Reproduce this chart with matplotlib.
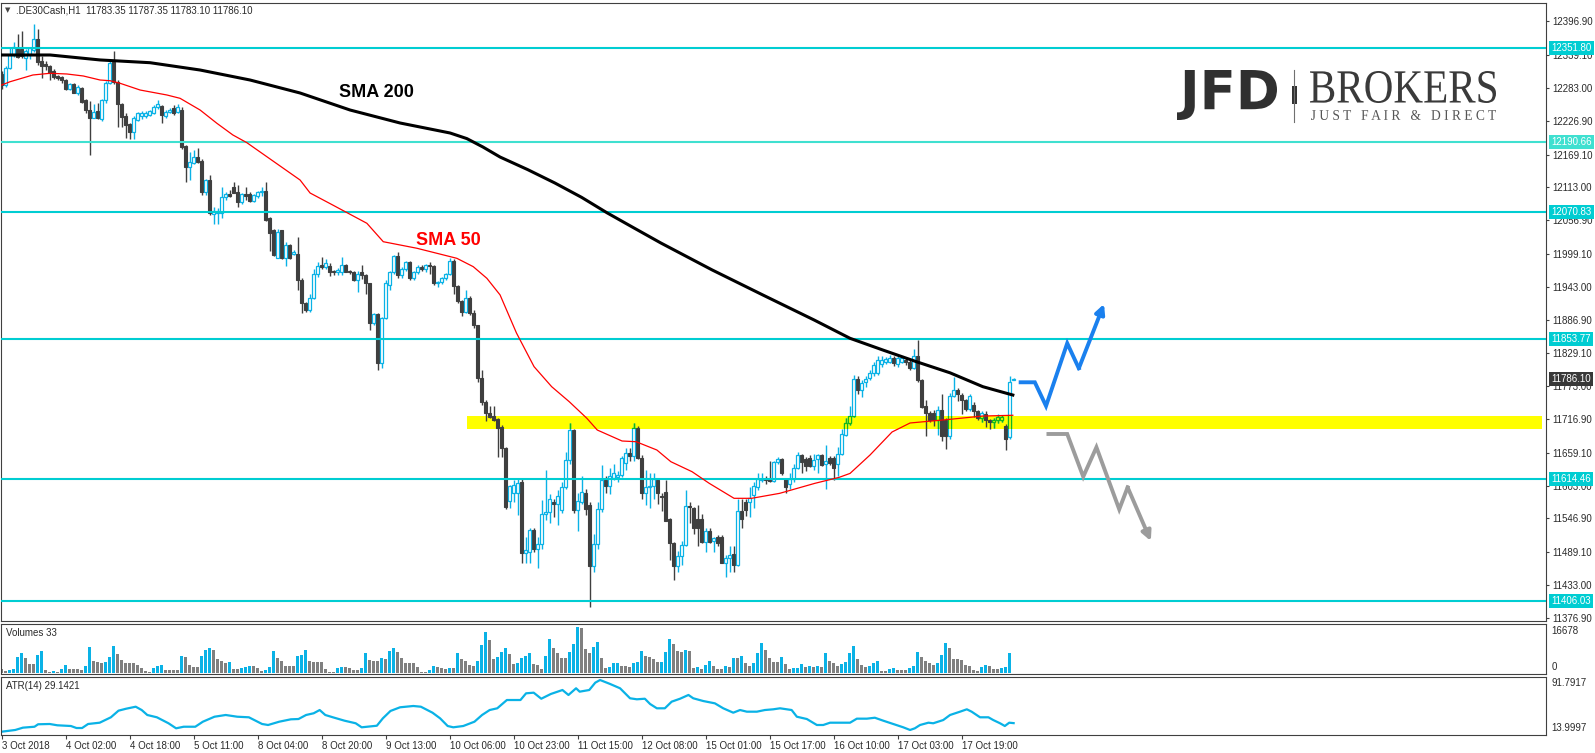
import matplotlib
matplotlib.use("Agg")
import matplotlib.pyplot as plt
import matplotlib.transforms as mtransforms
from matplotlib.patches import Rectangle, PathPatch
from matplotlib.textpath import TextPath
from matplotlib.font_manager import FontProperties
import numpy as np

plt.rcParams['font.family'] = ['Liberation Sans', 'DejaVu Sans']

# ---------------- data ----------------
opens = [
    12307, 12288, 12318, 12339, 12350, 12349, 12335, 12342, 12348, 12366,
    12330, 12324, 12320, 12312, 12303, 12302, 12296, 12282, 12290, 12274,
    12283, 12262, 12245, 12232, 12244, 12230, 12262, 12292, 12327, 12293,
    12255, 12236, 12221, 12207, 12228, 12235, 12236, 12237, 12241, 12250,
    12252, 12235, 12242, 12248, 12242, 12245, 12184, 12148, 12155, 12165,
    12158, 12105, 12126, 12068, 12070, 12069, 12096, 12101, 12113, 12105,
    12088, 12101, 12102, 12090, 12098, 12105, 12107, 12060, 12040, 11993,
    12040, 11993, 12014, 11999, 11999, 11955, 11915, 11903, 11924, 11965,
    11980, 11977, 11979, 11970, 11968, 11968, 11980, 11970, 11968, 11955,
    11968, 11963, 11949, 11882, 11897, 11812, 11890, 11946, 11968, 11995,
    11963, 11973, 11985, 11958, 11968, 11977, 11973, 11980, 11978, 11949,
    11951, 11958, 11965, 11987, 11945, 11918, 11900, 11924, 11898, 11877,
    11787, 11746, 11728, 11722, 11717, 11704, 11667, 11577, 11590, 11590,
    11610, 11488, 11490, 11527, 11495, 11503, 11554, 11558, 11575, 11572,
    11561, 11601, 11647, 11698, 11561, 11575, 11590, 11570, 11465, 11503,
    11563, 11613, 11602, 11616, 11618, 11622, 11642, 11659, 11654, 11702,
    11650, 11591, 11600, 11602, 11613, 11585, 11592, 11546, 11505, 11466,
    11483, 11502, 11568, 11565, 11546, 11546, 11507, 11525, 11509, 11516,
    11515, 11471, 11480, 11487, 11468, 11560, 11575, 11575, 11587, 11601,
    11612, 11614, 11614, 11611, 11643, 11648, 11614, 11606, 11614, 11634,
    11655, 11648, 11650, 11636, 11648, 11655, 11640, 11650, 11650, 11640,
    11657, 11690, 11710, 11723, 11785, 11767, 11780, 11787, 11796, 11796,
    11811, 11815, 11815, 11821, 11811, 11815, 11818, 11815, 11805, 11825,
    11784, 11739, 11728, 11728, 11715, 11732, 11715, 11688, 11756, 11767,
    11758, 11750, 11734, 11741, 11730, 11718, 11725, 11715, 11712, 11716,
    11716, 11705, 11686, 11783.35,
]
highs = [
    12312, 12320, 12351, 12361, 12376, 12381, 12350, 12354, 12392, 12384,
    12338, 12330, 12322, 12316, 12305, 12304, 12298, 12292, 12292, 12288,
    12285, 12265, 12260, 12256, 12258, 12265, 12295, 12330, 12347, 12296,
    12257, 12240, 12224, 12235, 12242, 12243, 12243, 12246, 12254, 12263,
    12254, 12245, 12248, 12254, 12256, 12250, 12186, 12173, 12177, 12180,
    12162, 12128, 12135, 12080, 12078, 12113, 12106, 12108, 12122, 12118,
    12103, 12113, 12105, 12102, 12107, 12113, 12122, 12062, 12042, 12042,
    12040, 12019, 12016, 12006, 12029, 11958, 11917, 11930, 11973, 11986,
    11994, 11990, 11984, 11972, 11975, 11994, 11982, 11972, 11970, 11970,
    11980, 11965, 11950, 11898, 11898, 11892, 11955, 11970, 11998, 12002,
    11977, 11987, 11987, 11970, 11980, 11980, 11982, 11985, 11980, 11953,
    11960, 11967, 11992, 11990, 11947, 11920, 11937, 11927, 11903, 11878,
    11800, 11750, 11740, 11740, 11719, 11706, 11670, 11605, 11612, 11616,
    11615, 11515, 11530, 11530, 11515, 11578, 11630, 11588, 11580, 11596,
    11610, 11660, 11710, 11700, 11590, 11620, 11597, 11575, 11520, 11575,
    11638, 11620, 11633, 11640, 11628, 11653, 11668, 11668, 11710, 11705,
    11655, 11630, 11625, 11625, 11614, 11590, 11613, 11548, 11506, 11492,
    11508, 11595, 11575, 11567, 11570, 11554, 11530, 11530, 11516, 11518,
    11518, 11485, 11500, 11500, 11580, 11580, 11580, 11600, 11610, 11625,
    11625, 11620, 11645, 11645, 11652, 11650, 11616, 11625, 11640, 11660,
    11658, 11652, 11655, 11658, 11658, 11658, 11672, 11653, 11653, 11670,
    11700, 11719, 11740, 11792, 11790, 11783, 11790, 11800, 11815, 11825,
    11824, 11823, 11826, 11824, 11826, 11824, 11821, 11818, 11836, 11852,
    11786, 11749, 11730, 11733, 11740, 11760, 11718, 11762, 11788, 11770,
    11762, 11752, 11760, 11746, 11733, 11730, 11730, 11717, 11718, 11725,
    11724, 11708, 11790, 11787.35,
]
lows = [
    12282, 12285, 12315, 12336, 12334, 12334, 12314, 12332, 12345, 12322,
    12300, 12313, 12297, 12299, 12297, 12292, 12280, 12280, 12274, 12271,
    12258, 12240, 12168, 12232, 12230, 12226, 12258, 12290, 12290, 12216,
    12216, 12198, 12195, 12195, 12226, 12230, 12232, 12235, 12238, 12247,
    12223, 12232, 12240, 12237, 12240, 12178, 12122, 12125, 12153, 12155,
    12100, 12100, 12066, 12051, 12051, 12060, 12092, 12096, 12103, 12080,
    12085, 12092, 12088, 12088, 12095, 12099, 12055, 12005, 11995, 11993,
    11990, 11979, 11990, 11997, 11938, 11898, 11900, 11900, 11922, 11960,
    11974, 11973, 11962, 11963, 11963, 11964, 11968, 11965, 11953, 11935,
    11957, 11931, 11870, 11878, 11800, 11805, 11888, 11938, 11965, 11958,
    11958, 11970, 11955, 11954, 11965, 11970, 11968, 11965, 11947, 11943,
    11948, 11955, 11963, 11930, 11915, 11893, 11898, 11895, 11873, 11781,
    11741, 11713, 11718, 11713, 11652, 11652, 11563, 11565, 11575, 11553,
    11470, 11470, 11471, 11490, 11463, 11495, 11545, 11540, 11550, 11535,
    11556, 11598, 11640, 11556, 11526, 11572, 11553, 11396, 11455, 11495,
    11558, 11590, 11588, 11612, 11610, 11618, 11630, 11646, 11645, 11648,
    11580, 11570, 11565, 11580, 11572, 11560, 11543, 11476, 11442, 11456,
    11468, 11500, 11540, 11520, 11500, 11505, 11490, 11505, 11490, 11500,
    11471, 11446, 11455, 11455, 11465, 11530, 11552, 11550, 11565, 11596,
    11610, 11606, 11610, 11610, 11640, 11622, 11590, 11598, 11610, 11632,
    11625, 11628, 11635, 11630, 11624, 11636, 11598, 11638, 11612, 11620,
    11655, 11688, 11706, 11720, 11760, 11755, 11772, 11784, 11790, 11792,
    11806, 11811, 11812, 11808, 11806, 11812, 11810, 11800, 11802, 11780,
    11735, 11688, 11712, 11705, 11690, 11680, 11665, 11683, 11754, 11748,
    11725, 11730, 11730, 11720, 11715, 11712, 11704, 11700, 11702, 11710,
    11712, 11664, 11683, 11783.10,
]
closes = [
    12288, 12318, 12339, 12354, 12336, 12338, 12346, 12351, 12366, 12327,
    12320, 12320, 12308, 12302, 12300, 12296, 12282, 12290, 12275, 12285,
    12259, 12245, 12231, 12242, 12232, 12262, 12292, 12325, 12293, 12255,
    12233, 12219, 12207, 12232, 12240, 12240, 12240, 12244, 12251, 12256,
    12237, 12242, 12246, 12240, 12250, 12182, 12148, 12156, 12165, 12157,
    12105, 12126, 12069, 12072, 12073, 12096, 12101, 12098, 12104, 12088,
    12101, 12098, 12090, 12100, 12105, 12107, 12057, 12035, 11997, 12036,
    11993, 12014, 11993, 12002, 11955, 11915, 11903, 11924, 11965, 11978,
    11977, 11984, 11969, 11968, 11971, 11980, 11969, 11968, 11955, 11965,
    11963, 11949, 11882, 11896, 11812, 11890, 11949, 11968, 11995, 11963,
    11973, 11985, 11958, 11968, 11977, 11973, 11980, 11978, 11949, 11951,
    11958, 11965, 11987, 11945, 11918, 11900, 11924, 11898, 11877, 11787,
    11746, 11728, 11720, 11715, 11701, 11667, 11567, 11602, 11605, 11608,
    11488, 11493, 11527, 11495, 11503, 11554, 11558, 11580, 11572, 11585,
    11601, 11647, 11698, 11561, 11576, 11592, 11563, 11465, 11503, 11563,
    11613, 11602, 11619, 11624, 11622, 11650, 11659, 11654, 11702, 11650,
    11590, 11601, 11603, 11614, 11590, 11583, 11543, 11505, 11466, 11483,
    11502, 11568, 11566, 11530, 11530, 11507, 11526, 11507, 11514, 11505,
    11471, 11480, 11484, 11468, 11559, 11546, 11561, 11582, 11603, 11614,
    11614, 11612, 11611, 11643, 11649, 11625, 11601, 11614, 11634, 11655,
    11643, 11636, 11636, 11647, 11655, 11639, 11645, 11641, 11634, 11657,
    11692, 11710, 11723, 11785, 11767, 11778, 11785, 11796, 11809, 11818,
    11818, 11819, 11821, 11812, 11821, 11821, 11815, 11805, 11825, 11784,
    11738, 11728, 11715, 11715, 11732, 11688, 11688, 11756, 11767, 11760,
    11750, 11734, 11756, 11730, 11718, 11727, 11715, 11712, 11716, 11720,
    11720, 11682, 11781, 11786.10,
]
volumes = [
    1388, 810, 1041, 1388, 5438, 6826, 5091, 3124, 3124, 6248,
    7636, 1041, 463, 694, 463, 1388, 2777, 1388, 1388, 1388,
    1041, 2430, 8909, 4165, 3934, 3587, 3934, 5438, 9372, 6595,
    4512, 3587, 3587, 3587, 2777, 1620, 810, 347, 1620, 2545,
    2777, 1041, 1041, 1041, 1041, 5901, 5438, 2777, 2198, 2198,
    5901, 7983, 8562, 7983, 4744, 4281, 3587, 3934, 1388, 1273,
    1620, 1967, 2545, 2545, 1620, 810, 1041, 1967, 7636, 5091,
    4165, 2545, 2545, 2545, 5901, 6248, 7983, 4281, 3702, 3702,
    3702, 1388, 463, 463, 1620, 1967, 1967, 1620, 1041, 1041,
    1620, 6826, 4512, 4281, 4281, 5091, 4744, 7636, 8562, 7173,
    5091, 3587, 3587, 3587, 2198, 463, 463, 1041, 2545, 2198,
    1620, 1388, 1620, 1620, 7058, 4744, 4165, 2777, 2545, 4165,
    9719, 14347, 11454, 4859, 5669, 7173, 8562, 6595, 3008, 3587,
    5091, 5901, 6826, 3008, 2777, 1388, 5901, 11801, 8562, 6826,
    5091, 5091, 7405, 10066, 16082, 15620, 8330, 6826, 9140, 10760,
    5091, 1620, 1967, 3355, 3470, 2430, 2430, 1967, 3587, 3934,
    7636, 5901, 5669, 4744, 3702, 3934, 7173, 11801, 10066, 7636,
    7173, 7983, 7636, 1851, 2198, 1388, 2777, 4165, 2430, 1388,
    1388, 2430, 2198, 5091, 5091, 5901, 3587, 2545, 3587, 6826,
    10529, 7983, 5091, 3934, 3934, 5669, 3124, 1273, 1620, 1851,
    3124, 2198, 2545, 2198, 2430, 2198, 7058, 4165, 3355, 2545,
    3124, 3934, 6826, 9487, 4744, 2777, 2198, 2430, 3355, 4281,
    810, 810, 1388, 1851, 1041, 1041, 1041, 1620, 2430, 7405,
    5669, 4165, 3355, 2777, 3587, 6248, 10529, 8793, 4975, 4744,
    4512, 2777, 2430, 1041, 810, 2198, 2777, 2545, 1273, 1273,
    1620, 2198, 7058, 33,
]

sma200_bar = [0, 12.1, 24.6, 37.1, 49.6, 62.1, 74.6, 87.1, 99.6, 112.1, 116.3, 120.3, 124.6,
              131.5, 138.3, 145.0, 151.3, 158.0, 164.8, 171.2, 177.6, 190.3, 203.1, 212.1,
              220.3, 228.7, 237.1, 245.3, 252.8]
sma200_val = [12339.5, 12339.5, 12331, 12326.3, 12313.8, 12296.7, 12274.5, 12245.4, 12223.2,
              12206.1, 12196.5, 12182.2, 12165.0, 12143.5, 12120.6, 12096.0, 12069.8, 12044.0,
              12018.0, 11995.0, 11972.0, 11929.1, 11886.4, 11855, 11835, 11815, 11796,
              11772.3, 11758]

sma50_bar = [0, 2.1, 7.8, 12.1, 16.3, 20.4, 24.6, 27.1, 29.6, 34.6,
             41.3, 44.6, 49.6, 53.8, 57.8, 61.3, 74.6, 77.1, 82.8, 91.3,
             95.4, 103.8, 113.8, 117.9, 121.3, 124.6, 128.7, 133.1, 137.5, 141.9,
             146.3, 148.9, 155.1, 158.6, 163.8, 167.3, 172.6, 176.9, 183.1, 187.5,
             194.5, 203.3, 209.4, 212.1, 217.1, 222.6, 227.1, 237.1, 245.3, 252.8]
sma50_val = [12288.2, 12293.8, 12305.3, 12308.2, 12307, 12303.6, 12296.7, 12295.5, 12291.1, 12279.6,
             12271.1, 12265.4, 12245.4, 12222.7, 12202.7, 12189.5, 12125.7, 12103.5, 12082.8, 12051.7,
             12020.2, 12009, 11991.8, 11977.5, 11957.6, 11929.2, 11864.1, 11806.5, 11772.3, 11746.6,
             11718.2, 11698.2, 11679.4, 11678.2, 11664, 11644, 11626.9, 11607, 11581.4, 11581.4,
             11589.9, 11607, 11617.3, 11624, 11655.5, 11694.8, 11710.2, 11716.5, 11722.1, 11723.4]

atr_bar = [0, 3.4, 5.3, 8.2, 9.1, 12.0, 13.9, 17.3, 18.7, 20.1,
           21.6, 24.5, 27.3, 29.2, 31.1, 33.5, 35.0, 36.4, 38.8, 41.7,
           43.6, 45.5, 48.4, 50.3, 53.2, 56.0, 58.9, 61.8, 65.1, 66.6,
           69.4, 72.3, 74.2, 76.1, 78.0, 79.5, 80.9, 82.8, 85.7, 88.5,
           90.0, 91.4, 93.8, 95.3, 97.2, 99.6, 102.9, 104.8, 107.7, 109.6,
           111.5, 112.9, 115.4, 118.2, 120.1, 122.0, 123.9, 126.3, 129.7, 131.1,
           133.0, 134.9, 137.3, 140.2, 141.7, 143.6, 144.5, 146.9, 148.4, 149.6,
           152.1, 154.6, 157.1, 158.8, 160.8, 162.1, 163.8, 165.8, 167.5, 169.6,
           171.7, 172.9, 175.4, 178.3, 180.4, 182.9, 184.6, 186.3, 188.8, 190.8,
           192.9, 194.6, 197.5, 198.8, 201.3, 203.8, 205.4, 207.1, 212.1, 213.8,
           216.3, 218.3, 220.4, 222.9, 225.4, 227.1, 228.3, 229.6, 231.7, 232.9,
           235.4, 237.1, 239.6, 241.3, 242.5, 244.6, 246.7, 247.9, 249.6, 250.8,
           251.9, 253]
atr_val = [17.2, 19.6, 22.8, 24.1, 27.5, 27.9, 26.1, 25.1, 22.3, 22.3,
           27.9, 29.7, 37.2, 46.4, 49.1, 51.9, 47.3, 40.4, 37.2, 28.9,
           21.9, 24.1, 24.1, 31.1, 38.0, 40.4, 38.0, 37.2, 27.9, 26.5,
           31.1, 34.4, 34.8, 40.4, 42.8, 47.3, 40.4, 37.2, 32.5, 28.9,
           23.3, 24.1, 25.5, 35.8, 46.0, 51.1, 52.9, 51.9, 43.6, 35.8,
           25.1, 23.3, 25.1, 31.1, 40.4, 47.3, 49.7, 61.2, 61.2, 70.5,
           71.4, 63.0, 69.6, 75.1, 68.2, 77.5, 72.8, 75.1, 85.3, 89.0,
           83.5, 77.5, 63.6, 62.2, 63.0, 55.7, 49.7, 49.7, 58.9, 63.0,
           68.2, 63.6, 59.8, 56.6, 49.7, 43.6, 47.3, 45.0, 45.0, 47.3,
           48.3, 49.7, 47.3, 38.0, 34.8, 26.5, 26.5, 29.7, 29.7, 35.3,
           35.3, 36.6, 32.5, 27.9, 23.3, 19.6, 21.9, 26.5, 29.7, 28.9,
           33.4, 40.4, 45.0, 48.3, 45.0, 37.2, 37.2, 33.4, 28.9, 25.1,
           29.7, 29.1]

levels = [12351.80, 12190.66, 12070.83, 11853.77, 11614.46, 11406.03]
price_ticks = [12396.90, 12339.10, 12283.00, 12226.90, 12169.10, 12113.00, 12056.90, 11999.10,
               11943.00, 11886.90, 11829.10, 11773.00, 11716.90, 11659.10, 11603.00, 11546.90,
               11489.10, 11433.00, 11376.90]
time_labels = ['3 Oct 2018', '4 Oct 02:00', '4 Oct 18:00', '5 Oct 11:00', '8 Oct 04:00',
               '8 Oct 20:00', '9 Oct 13:00', '10 Oct 06:00', '10 Oct 23:00', '11 Oct 15:00',
               '12 Oct 08:00', '15 Oct 01:00', '15 Oct 17:00', '16 Oct 10:00', '17 Oct 03:00',
               '17 Oct 19:00']
zone_low, zone_high = 11700, 11722
blue_arrow = [(254.75, 11779.8), (258.3, 11779.8), (261.1, 11739.3), (266.4, 11846.5),
              (269.3, 11803.7), (275.6, 11913.7)]
gray_arrow = [(261.7, 11691.4), (266.4, 11691.4), (270.4, 11618.4), (273.7, 11668.7),
              (279.4, 11562.6), (281.5, 11600.2), (287.3, 11508.4)]

# ---------------- styling ----------------
W, H = 1595, 753
BLUE = '#0ab2e6'
DARK = '#3f3f3f'
GRAY = '#808080'
GREEN = '#12b81a'
CYAN = '#00cdd2'
FRAME = '#404040'
TXT = '#2a2a2a'

fig = plt.figure(figsize=(W / 100, H / 100), dpi=100)


def px_rect(x0, y0, x1, y1):
    return [x0 / W, 1 - y1 / H, (x1 - x0) / W, (y1 - y0) / H]


ax = fig.add_axes(px_rect(1, 3, 1546, 621))
axv = fig.add_axes(px_rect(1, 624, 1546, 674))
axa = fig.add_axes(px_rect(1, 677, 1546, 735))

n = min(len(opens), len(highs), len(lows), len(closes))
o = np.array(opens[:n], float)
c = np.array(closes[:n], float)
hi = np.maximum(np.array(highs[:n], float), np.maximum(o, c))
lo = np.minimum(np.array(lows[:n], float), np.minimum(o, c))
x = np.arange(n)
up = c >= o
dn = ~up

# support / resistance zone (background)
band = Rectangle((116.3, zone_low), 385.1 - 116.3, zone_high - zone_low,
                 facecolor='#ffff00', edgecolor='none', zorder=1)
ax.add_patch(band)

# candles
ax.vlines(x[dn], lo[dn], hi[dn], colors=DARK, lw=1.0, zorder=2)
ax.vlines(x[up], lo[up], hi[up], colors=BLUE, lw=1.0, zorder=2)
ax.bar(x[dn], (o - c)[dn], bottom=c[dn], width=0.62, facecolor=DARK, edgecolor=DARK,
       linewidth=0.8, zorder=2.2)
ax.bar(x[up], (c - o)[up], bottom=o[up], width=0.62, facecolor='white', edgecolor=BLUE,
       linewidth=0.9, zorder=2.2)
# bullish candles look green where they cross the yellow zone
gw = ax.vlines(x[up], lo[up], hi[up], colors=GREEN, lw=1.0, zorder=2.3)
gw.set_clip_path(band)
gb = ax.bar(x[up], (c - o)[up], bottom=o[up], width=0.62, facecolor='#ffff00',
            edgecolor=GREEN, linewidth=0.9, zorder=2.4)
for p in gb:
    p.set_clip_path(band)

# horizontal levels
for lv in levels:
    col = '#3fe0d0' if lv == 12190.66 else CYAN
    ax.axhline(lv, color=col, lw=1.5, zorder=2.6)

# moving averages
ax.plot(sma200_bar, sma200_val, color='black', lw=2.2, solid_joinstyle='round', zorder=3)
ax.plot(sma50_bar, sma50_val, color='#ff0000', lw=0.9, solid_joinstyle='round', zorder=3)
ax.text(84.3, 12275, 'SMA 200', fontsize=13, fontweight='bold', color='black',
        va='center', ha='left', zorder=4)
ax.text(103.6, 12023, 'SMA 50', fontsize=13, fontweight='bold', color='#ff0000',
        va='center', ha='left', zorder=4)

# scenario arrows
for pts, col in ((blue_arrow, '#1a80ee'), (gray_arrow, '#9c9c9c')):
    px_ = [p[0] for p in pts]
    py_ = [p[1] for p in pts]
    ax.plot(px_[:-1], py_[:-1], color=col, lw=2.8, solid_joinstyle='miter',
            solid_capstyle='projecting', zorder=4)
    ax.annotate('', xy=(px_[-1], py_[-1]), xytext=(px_[-2], py_[-2]),
                arrowprops=dict(arrowstyle='-|>', color=col, lw=2.8, mutation_scale=14,
                                shrinkA=0, shrinkB=0), zorder=4)

ax.set_xlim(-0.175, 386.1)
ax.set_ylim(11371.6, 12428.4)
ax.yaxis.tick_right()
ax.set_yticks(price_ticks)
ax.set_yticklabels(['%.2f' % t for t in price_ticks])
ax.tick_params(axis='y', direction='out', length=2.5, width=0.8, pad=2,
               labelsize=7, colors=FRAME, labelcolor=TXT)
ax.tick_params(axis='x', bottom=False, labelbottom=False)

ytr = ax.get_yaxis_transform()
for lv in levels:
    col = '#3fe0d0' if lv == 12190.66 else CYAN
    ax.text(1.0035, lv, '%.2f' % lv, transform=ytr, fontsize=7, color='white',
            va='center', ha='left', clip_on=False, zorder=6,
            bbox=dict(boxstyle='square,pad=0.2', fc=col, ec='none'))
ax.text(1.0035, closes[-1], '%.2f' % closes[-1], transform=ytr, fontsize=7, color='white',
        va='center', ha='left', clip_on=False, zorder=6,
        bbox=dict(boxstyle='square,pad=0.2', fc='#383838', ec='none'))

ax.text(0.0028, 0.9885, '\u25bc', transform=ax.transAxes, fontsize=5, color='#444444',
        va='center', ha='left', family=['DejaVu Sans'])
ax.text(0.0098, 0.9885, '.DE30Cash,H1  11783.35 11787.35 11783.10 11786.10',
        transform=ax.transAxes, fontsize=7, color=TXT, va='center', ha='left')

# volumes
vol = np.array(volumes[:n], float)
vcol = [GRAY] + [BLUE if vol[i] > vol[i - 1] else GRAY for i in range(1, n)]
axv.bar(x, vol, width=0.75, color=vcol, linewidth=0)
axv.set_xlim(-0.175, 386.1)
axv.set_ylim(-347, 17003)
axv.set_xticks([])
axv.set_yticks([])
axv.text(0.003, 0.82, 'Volumes 33', transform=axv.transAxes, fontsize=7, color=TXT, va='center')
axv.text(1.0035, 0.86, '16678', transform=axv.transAxes, fontsize=7, color=TXT, va='center',
         clip_on=False)
axv.text(1.0035, 0.14, '0', transform=axv.transAxes, fontsize=7, color=TXT, va='center',
         clip_on=False)

# ATR
m = min(len(atr_bar), len(atr_val))
axa.plot(atr_bar[:m], atr_val[:m], color=BLUE, lw=1.6)
axa.set_xlim(-0.175, 386.1)
axa.set_ylim(12.61, 93.17)
axa.set_yticks([])
axa.set_xticks(np.arange(0, 16 * len(time_labels), 16))
axa.set_xticklabels(time_labels)
for lab in axa.get_xticklabels():
    lab.set_ha('left')
axa.tick_params(axis='x', direction='out', length=3, width=0.8, pad=1.5, labelsize=7,
                colors=FRAME, labelcolor=TXT)
axa.text(0.003, 0.85, 'ATR(14) 29.1421', transform=axa.transAxes, fontsize=7, color=TXT,
         va='center')
axa.text(1.0035, 0.897, '91.7917', transform=axa.transAxes, fontsize=7, color=TXT, va='center',
         clip_on=False)
axa.text(1.0035, 0.12, '13.9997', transform=axa.transAxes, fontsize=7, color=TXT, va='center',
         clip_on=False)

for a in (ax, axv, axa):
    for s in a.spines.values():
        s.set_color(FRAME)
        s.set_linewidth(0.8)

# logo overlay in pixel coordinates
ov = fig.add_axes([0, 0, 1, 1], zorder=10)
ov.set_xlim(0, W)
ov.set_ylim(H, 0)
ov.axis('off')
ov.patch.set_visible(False)


def fit_text(s, box, fp, color):
    tp = TextPath((0, 0), s, size=100, prop=fp)
    ext = tp.get_extents()
    x0, y0, x1, y1 = box
    sx = (x1 - x0) / ext.width
    sy = (y1 - y0) / ext.height
    tr = (mtransforms.Affine2D().translate(-ext.x0, -ext.y0).scale(sx, -sy)
          .translate(x0, y1) + ov.transData)
    ov.add_patch(PathPatch(tp, facecolor=color, edgecolor='none', transform=tr))


fit_text('JFD', (1177, 70, 1277, 120), FontProperties(family='DejaVu Sans', weight='bold'),
         '#303030')
ov.plot([1294, 1294], [70, 122], color='#707070', lw=0.8)
ov.add_patch(Rectangle((1291.5, 86), 5, 18, facecolor='#333333', edgecolor='none'))
fit_text('BROKERS', (1310, 71, 1496, 103), FontProperties(family='Liberation Serif'),
         '#3a3a3a')
fit_text('J U S T   F A I R   &   D I R E C T', (1311, 110, 1496, 120),
         FontProperties(family='Liberation Serif'), '#555555')

fig.savefig('out.png', dpi=100)
